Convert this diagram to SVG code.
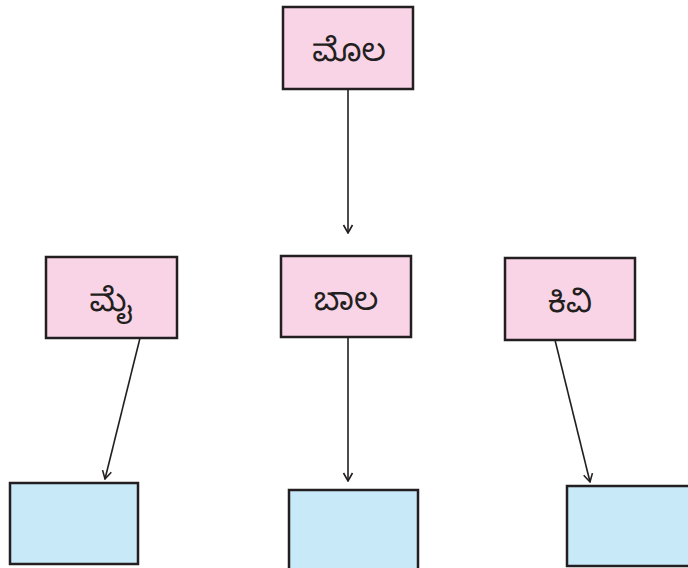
<svg xmlns="http://www.w3.org/2000/svg" width="688" height="568" viewBox="0 0 688 568">
<style>
.p{fill:#f9d4e6;stroke:#231f20;stroke-width:2.5}
.b{fill:#c7e9f8;stroke:#231f20;stroke-width:2.5}
.t{font-family:"Noto Sans Kannada","Noto Serif Kannada","Noto Sans",sans-serif;font-size:32px;fill:#231f20;text-anchor:middle}
.c{stroke:#231f20;stroke-width:1.6;fill:none;marker-end:url(#a)}
</style>
<defs>
<marker id="a" viewBox="0 0 12 12" refX="11" refY="6" markerWidth="12" markerHeight="12" markerUnits="userSpaceOnUse" orient="auto">
<path d="M3,1.5 L11,6 L3,10.5" fill="none" stroke="#231f20" stroke-width="1.6"/>
</marker>
</defs>
<g id="connectors">
<path class="c" d="M348,89 L348,233"/>
<path class="c" d="M140,338 L105,479"/>
<path class="c" d="M348,337 L348,481"/>
<path class="c" d="M555,340 L590,482"/>
</g>
<g id="mola"><rect class="p" x="283" y="7" width="130" height="82"/><text class="t" x="349" y="61">ಮೊಲ</text></g>
<g id="mai"><rect class="p" x="46" y="257" width="131" height="81"/><text class="t" x="111" y="311">ಮೈ</text></g>
<g id="bala"><rect class="p" x="281" y="256" width="130" height="81"/><text class="t" x="346" y="310">ಬಾಲ</text></g>
<g id="kivi"><rect class="p" x="505" y="258" width="130" height="82"/><text class="t" x="570" y="312">ಕಿವಿ</text></g>
<g id="out1"><rect class="b" x="10" y="483" width="128" height="81"/></g>
<g id="out2"><rect class="b" x="289" y="490" width="129" height="82"/></g>
<g id="out3"><rect class="b" x="567" y="486" width="126" height="80"/></g>
</svg>
